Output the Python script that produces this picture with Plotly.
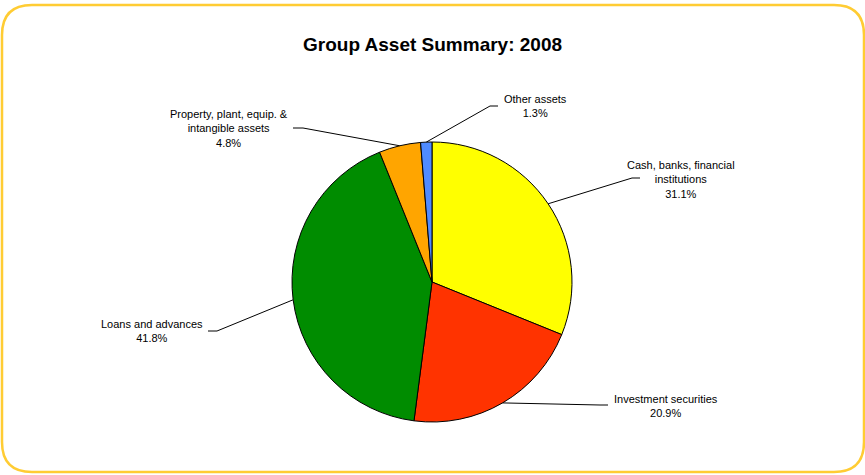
import math
import plotly.graph_objects as go

W, H = 865, 475

# Asset mix, clockwise from 12 o'clock
categories = [
    "Cash, banks, financial<br>institutions",
    "Investment securities",
    "Loans and advances",
    "Property, plant, equip. &<br>intangible assets",
    "Other assets",
]
shares = [31.1, 20.9, 41.8, 4.8, 1.3]
colors = ["#FFFF00", "#FF3300", "#008C00", "#FFA500", "#4F8BFF"]

# Label layout in pixels: (label centre x, label middle y, elbow x, elbow y, tail x)
label_pos = [
    (681, 179, 632, 178, 640),
    (666, 406, 600, 405, 608),
    (152, 331, 217, 331, 208),
    (229, 128, 303, 128, 293),
    (535, 106, 490, 106, 498),
]

# Pie geometry in pixels
CX, CY, R = 432, 282, 140


def px(x):
    return x / W


def py(y):
    return 1 - y / H


fig = go.Figure(
    go.Pie(
        labels=[c.replace("<br>", " ") for c in categories],
        values=shares,
        sort=False,
        direction="clockwise",
        rotation=0,
        marker=dict(colors=colors, line=dict(color="#000000", width=1)),
        textinfo="none",
        hoverinfo="label+percent",
        showlegend=False,
        domain=dict(x=[px(CX - R), px(CX + R)], y=[py(CY + R), py(CY - R)]),
    )
)

total = sum(shares)
shapes = []
annotations = []
cum = 0.0
for cat, val, (lx, ly, ex, ey, tx) in zip(categories, shares, label_pos):
    mid = (cum + val / 2) / total * 2 * math.pi
    cum += val
    # point on the slice edge at its mid-angle
    sx = CX + R * math.sin(mid)
    sy = CY - R * math.cos(mid)
    shapes.append(
        dict(
            type="path",
            xref="paper",
            yref="paper",
            path=f"M {px(sx)} {py(sy)} L {px(ex)} {py(ey)} L {px(tx)} {py(ey)}",
            line=dict(color="#000000", width=1),
        )
    )
    annotations.append(
        dict(
            x=px(lx),
            y=py(ly),
            xref="paper",
            yref="paper",
            text=f"{cat}<br>{val:.1f}%",
            showarrow=False,
            xanchor="center",
            yanchor="middle",
            align="center",
            font=dict(family="Liberation Sans, Arial, sans-serif", size=11, color="#000000"),
        )
    )

# Title
annotations.append(
    dict(
        x=px(432),
        y=py(45),
        xref="paper",
        yref="paper",
        text="<b>Group Asset Summary: 2008</b>",
        showarrow=False,
        xanchor="center",
        yanchor="middle",
        font=dict(family="Liberation Sans, Arial, sans-serif", size=19, color="#000000"),
    )
)

# Rounded frame around the chart
x0, y0, x1, y1, rr = 2, 5, 864, 472, 30
frame = (
    f"M {px(x0 + rr)} {py(y0)} L {px(x1 - rr)} {py(y0)} "
    f"Q {px(x1)} {py(y0)} {px(x1)} {py(y0 + rr)} "
    f"L {px(x1)} {py(y1 - rr)} Q {px(x1)} {py(y1)} {px(x1 - rr)} {py(y1)} "
    f"L {px(x0 + rr)} {py(y1)} Q {px(x0)} {py(y1)} {px(x0)} {py(y1 - rr)} "
    f"L {px(x0)} {py(y0 + rr)} Q {px(x0)} {py(y0)} {px(x0 + rr)} {py(y0)} Z"
)
shapes.append(
    dict(type="path", xref="paper", yref="paper", path=frame,
         line=dict(color="#FFCC33", width=2.5), layer="below")
)

fig.update_layout(
    width=W,
    height=H,
    margin=dict(l=0, r=0, t=0, b=0),
    paper_bgcolor="#FFFFFF",
    plot_bgcolor="#FFFFFF",
    shapes=shapes,
    annotations=annotations,
)

fig.write_html("out.html", config={"displayModeBar": False})
